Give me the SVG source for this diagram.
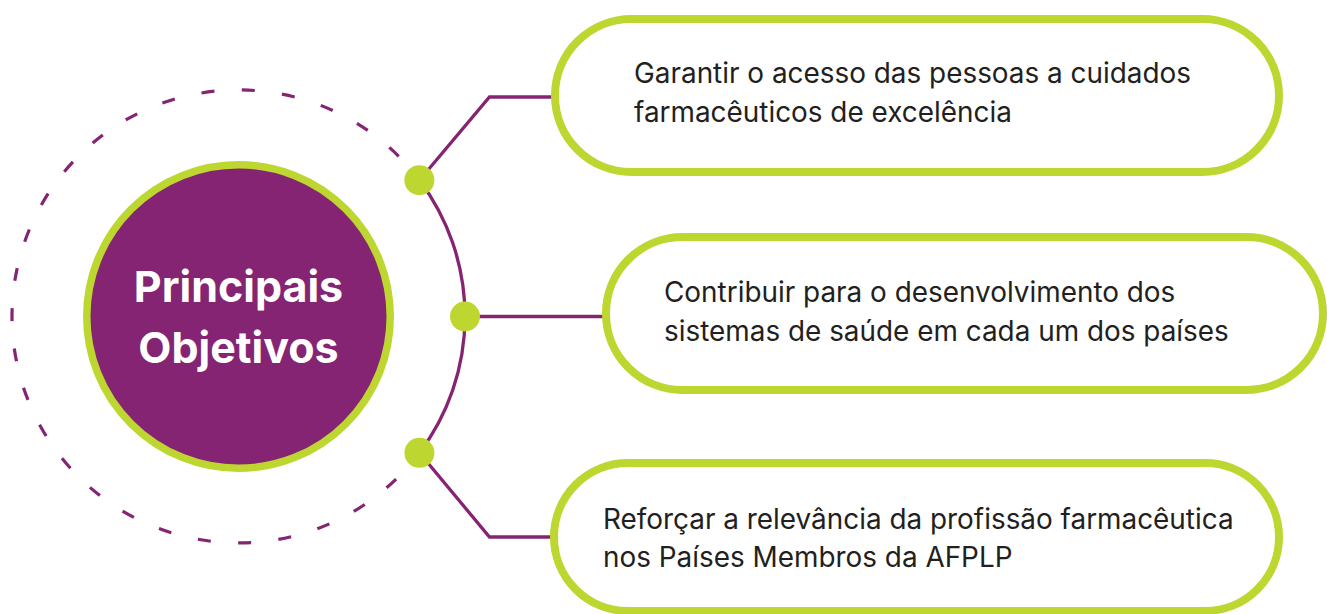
<svg xmlns="http://www.w3.org/2000/svg" width="1327" height="614" viewBox="0 0 1327 614">
  <style>
    .pill { fill: #FFFFFF; stroke: #BDD630; stroke-width: 8; }
    .conn { fill: none; stroke: #852473; stroke-width: 3.3; stroke-linejoin: miter; }
    .dot { fill: #BDD630; }
    .txt { font-family: Inter, Roboto, "Liberation Sans", sans-serif; font-size: 27.9px; fill: #231F20; }
    .title { font-family: Inter, Roboto, "Liberation Sans", sans-serif; font-size: 43px; font-weight: bold; fill: #FFFFFF; text-anchor: middle; }
  </style>
  <rect width="1327" height="614" fill="#FFFFFF"/>
  <g id="orbit">
    <path d="M 396.1 479.1 A 226.5 226.5 0 1 1 398.7 156.3" fill="none" stroke="#852473" stroke-width="3.2" stroke-dasharray="13 27.4" stroke-linecap="butt"/>
  </g>
  <g id="connectors">
    <path class="conn" d="M 419.4 180.2 A 226.5 226.5 0 0 1 419.4 452.8"/>
    <polyline class="conn" points="419.4,180.2 489.5,97 556,97"/>
    <line class="conn" x1="465" y1="316.5" x2="607" y2="316.5"/>
    <polyline class="conn" points="419.4,452.8 489.5,537 555,537"/>
  </g>
  <g id="dots">
    <circle class="dot" cx="419.4" cy="180.2" r="15"/>
    <circle class="dot" cx="465" cy="316.5" r="15"/>
    <circle class="dot" cx="419.4" cy="452.8" r="15"/>
  </g>
  <g id="center-node">
    <circle cx="238.5" cy="316.5" r="151.75" fill="#852473" stroke="#BDD630" stroke-width="7.5"/>
    <text class="title" x="238.5" y="302">Principais</text>
    <text class="title" x="238.5" y="363">Objetivos</text>
  </g>
  <g id="objective-1">
    <rect class="pill" x="555" y="19" width="724" height="153" rx="76.5"/>
    <text class="txt" x="634" y="83">Garantir o acesso das pessoas a cuidados</text>
    <text class="txt" x="634" y="122">farmacêuticos de excelência</text>
  </g>
  <g id="objective-2">
    <rect class="pill" x="606" y="237" width="717" height="153" rx="76.5"/>
    <text class="txt" x="664" y="302">Contribuir para o desenvolvimento dos</text>
    <text class="txt" x="664" y="341">sistemas de saúde em cada um dos países</text>
  </g>
  <g id="objective-3">
    <rect class="pill" x="554" y="463" width="725" height="148" rx="74"/>
    <text class="txt" x="603" y="529">Reforçar a relevância da profissão farmacêutica</text>
    <text class="txt" x="603" y="567">nos Países Membros da AFPLP</text>
  </g>
</svg>
